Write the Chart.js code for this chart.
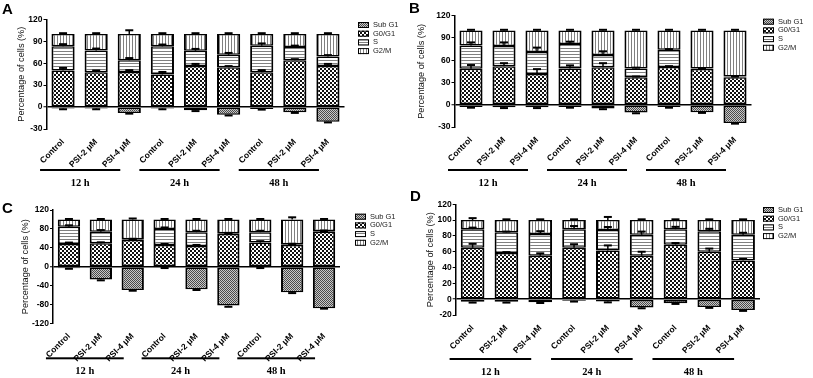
<!DOCTYPE html>
<html>
<head>
<meta charset="utf-8">
<script src="https://cdn.jsdelivr.net/npm/chart.js@4.4.1/dist/chart.umd.min.js"></script>
<style>
  body { margin: 0; background: #fff; }
  #wrap { position: relative; width: 813px; height: 378px; }
  canvas { position: absolute; }
</style>
</head>
<body>
<div id="wrap">
  <canvas id="chartA" width="406" height="190" style="left:0;top:0"></canvas>
  <canvas id="chartB" width="407" height="190" style="left:406px;top:0"></canvas>
  <canvas id="chartC" width="406" height="190" style="left:0;top:188px"></canvas>
  <canvas id="chartD" width="407" height="190" style="left:406px;top:188px"></canvas>
</div>
<script>
// Cell cycle distribution, four panels (A-D), each with 9 stacked bars.
// Sub G1 is plotted downward from zero; G0/G1, S and G2/M stack up to 100 %.

const categories = ['Control', 'PSI-2 μM', 'PSI-4 μM', 'Control', 'PSI-2 μM', 'PSI-4 μM', 'Control', 'PSI-2 μM', 'PSI-4 μM'];
const groups = ['12 h', '24 h', '48 h'];
const phaseLabels = ['Sub G1', 'G0/G1', 'S', 'G2/M'];

// Panel A
const subG1A = [-2, -2, -8, -2, -4.5, -10.5, -2.5, -7, -20];
const g0g1A = [50, 47.5, 48, 44.5, 56, 54.5, 47.5, 64, 56];
const sA = [33, 30, 16, 38.5, 21, 17, 36.5, 18, 13];
const g2mA = [17, 22.5, 36, 17, 23, 28.5, 16, 18, 31];
const errSubA = [1, 1, 1, 1, 1, 1, 1, 1, 1];
const errG0A = [3.5, 2.5, 2.5, 3.5, 3, 1.5, 3, 1.5, 3];
const errSA = [3, 2.5, 3, 2.5, 2.5, 2.5, 3, 2, 2];
const errG2A = [1, 1, 5, 1, 1, 1, 1, 1, 1];

// Panel B
const subG1B = [-3, -3.5, -3.5, -3, -5, -10.5, -3, -10, -24.5];
const g0g1B = [48.5, 52, 41.5, 49, 50.5, 37, 51, 48, 37];
const sB = [31.5, 27, 29.5, 33, 16.5, 12, 23, 1, 1];
const g2mB = [20, 21, 29, 18, 33, 51, 26, 51, 62];
const errSubB = [1, 1, 1, 1, 1, 1, 1, 1, 1];
const errG0B = [5, 4, 6.5, 4, 5.5, 1, 1, 0.5, 1];
const errSB = [4, 5, 6, 3, 5, 1, 1, 0.5, 0.5];
const errG2B = [1, 1, 1, 1, 1, 1, 1, 1, 1];

// Panel C
const subG1C = [-3.5, -27, -49.5, -2, -48, -82.5, -2, -54, -88];
const g0g1C = [48, 49.5, 56.5, 46, 44, 69, 51, 46, 74];
const sC = [36.5, 24.5, 1.5, 34, 29, 1.5, 22, 1.5, 1.5];
const g2mC = [15.5, 26, 42, 20, 27, 29.5, 27, 52.5, 24.5];
const errSubC = [1, 2, 1.5, 1, 1.5, 2.5, 1, 2, 1];
const errG0C = [3, 2, 1, 2, 2, 1, 3, 2, 1];
const errSC = [3, 3.5, 1, 3, 3, 1, 3, 1, 1];
const errG2C = [1, 1, 2, 1, 1, 1, 1, 4.5, 1];

// Panel D
const subG1D = [-3.3, -3.3, -3.8, -2, -3, -10.5, -5, -10, -13.8];
const g0g1D = [65, 58.5, 55, 65, 61.5, 55, 69, 60, 49];
const sD = [23.5, 26, 27.5, 23.5, 26, 26.5, 19.5, 26, 32.5];
const g2mD = [11.5, 15.5, 17.5, 11.5, 12.5, 18.5, 11.5, 14, 18.5];
const errSubD = [1, 1, 1, 1, 1, 1, 1, 1, 1];
const errG0D = [5, 1, 3, 4.5, 6.5, 5, 2, 4, 2];
const errSD = [2, 1, 3.5, 4, 3.8, 4, 3, 3, 2.5];
const errG2D = [2.5, 1, 1, 1, 4, 1, 1, 1, 1];

Chart.defaults.font.family = '"Liberation Sans", Arial, sans-serif';

function makePattern(size, paint) {
  const c = document.createElement('canvas');
  c.width = size;
  c.height = size;
  const g = c.getContext('2d');
  g.fillStyle = '#fff';
  g.fillRect(0, 0, size, size);
  paint(g);
  return g.createPattern(c, 'repeat');
}

const patterns = [
  makePattern(2, g => { g.fillStyle = '#c8c8c8'; g.fillRect(0, 0, 2, 2); g.fillStyle = '#4a4a4a'; g.fillRect(0, 0, 1, 1); g.fillRect(1, 1, 1, 1); }),
  makePattern(4, g => { g.fillStyle = '#111'; g.fillRect(0, 0, 2, 2); g.fillRect(2, 2, 2, 2); }),
  makePattern(3, g => { g.fillStyle = '#808080'; g.fillRect(0, 0, 3, 1); }),
  makePattern(3, g => { g.fillStyle = '#808080'; g.fillRect(0, 0, 1, 3); })
];

// error bars: one cap on the outer end of every segment
const errorBars = {
  id: 'errorBars',
  afterDatasetsDraw(chart) {
    const ctx = chart.ctx;
    const y = chart.scales.y;
    ctx.save();
    ctx.strokeStyle = '#000';
    chart.data.datasets.forEach((ds, i) => {
      chart.getDatasetMeta(i).data.forEach((bar, j) => {
        const err = ds.errors[j];
        const v = y.getValueForPixel(bar.y);
        const end = y.getPixelForValue(ds.data[j] < 0 ? v - err : v + err);
        ctx.lineWidth = 1.5;
        ctx.beginPath();
        ctx.moveTo(bar.x, bar.y);
        ctx.lineTo(bar.x, end);
        ctx.stroke();
        ctx.lineWidth = 2;
        ctx.beginPath();
        ctx.moveTo(bar.x - 4, end);
        ctx.lineTo(bar.x + 4, end);
        ctx.stroke();
      });
    });
    ctx.restore();
  }
};

// panel letter, legend and the time-point lines under the axis
const decor = {
  id: 'decor',
  afterDraw(chart, args, o) {
    const ctx = chart.ctx;
    const x = chart.scales.x;
    ctx.save();
    ctx.fillStyle = '#000';
    ctx.font = 'bold 15px "Liberation Sans", Arial, sans-serif';
    ctx.textBaseline = 'top';
    ctx.textAlign = 'left';
    ctx.fillText(o.letter, o.letterX, o.letterY);

    ctx.font = '7.5px "Liberation Sans", Arial, sans-serif';
    ctx.textBaseline = 'middle';
    chart.data.datasets.forEach((ds, i) => {
      const cy = o.legendY + i * 8.7;
      ctx.fillStyle = ds.backgroundColor;
      ctx.fillRect(o.legendX, cy - 3, 11, 6);
      ctx.lineWidth = 1;
      ctx.strokeStyle = '#000';
      ctx.strokeRect(o.legendX + 0.5, cy - 2.5, 10, 5);
      ctx.fillStyle = '#222';
      ctx.fillText(ds.label, o.legendX + 15, cy);
    });

    ctx.font = 'bold 10.5px "Liberation Serif", "Times New Roman", serif';
    ctx.textAlign = 'center';
    ctx.fillStyle = '#000';
    groups.forEach((name, g) => {
      const x1 = x.getPixelForValue(g * 3) - 23;
      const x2 = x.getPixelForValue(g * 3 + 2) - 9;
      ctx.fillRect(x1, o.lineY - 1, x2 - x1, 2);
      ctx.fillText(name, (x1 + x2) / 2, o.lineY + 13);
    });
    ctx.restore();
  }
};

function buildChart(id, series, errors, axis, box) {
  const datasets = series.map((data, i) => ({
    label: phaseLabels[i],
    data: data,
    errors: errors[i],
    backgroundColor: patterns[i],
    borderColor: '#000',
    borderWidth: { left: 2, right: 2, top: 1.5, bottom: 1.5 },
    borderSkipped: false,
    barPercentage: 0.7,
    categoryPercentage: 1
  }));
  return new Chart(document.getElementById(id), {
    type: 'bar',
    data: { labels: categories, datasets: datasets },
    options: {
      responsive: false,
      animation: false,
      layout: { padding: { left: 0, top: box.top, right: box.right, bottom: box.bottom } },
      plugins: {
        legend: { display: false },
        tooltip: { enabled: false },
        decor: box.decor
      },
      scales: {
        x: {
          stacked: true,
          grid: { display: false },
          border: { display: false },
          ticks: { minRotation: 45, maxRotation: 45, autoSkip: false, padding: 0, color: '#000', font: { size: 8.5, weight: 'bold' } },
          afterFit: s => { s.height = 42; }
        },
        y: {
          stacked: true,
          min: axis.min,
          max: axis.max,
          ticks: { stepSize: axis.step, padding: 1, color: '#000', font: { size: 8.5, weight: 'bold' } },
          grid: {
            color: c => (c.tick && c.tick.value === 0 ? '#000' : 'rgba(0,0,0,0)'),
            lineWidth: c => (c.tick && c.tick.value === 0 ? 1.5 : 1),
            tickColor: '#000',
            tickLength: 3,
            tickWidth: 1
          },
          border: { display: true, color: '#000', width: 1.5 },
          title: { display: true, text: 'Percentage of cells (%)', color: '#111', font: { size: 9.2 }, padding: { top: box.titlePad, bottom: 0 } },
          afterFit: s => { s.width = box.yWidth; }
        }
      }
    },
    plugins: [errorBars, decor]
  });
}

buildChart('chartA', [subG1A, g0g1A, sA, g2mA], [errSubA, errG0A, errSA, errG2A],
  { min: -30, max: 120, step: 30 },
  { top: 19.3, right: 61.5, bottom: 19, yWidth: 46.5, titlePad: 15.5,
    decor: { letter: 'A', letterX: 2, letterY: 2, legendX: 358, legendY: 25, lineY: 170 } });

buildChart('chartB', [subG1B, g0g1B, sB, g2mB], [errSubB, errG0B, errSB, errG2B],
  { min: -30, max: 120, step: 30 },
  { top: 15.7, right: 61.5, bottom: 21, yWidth: 48.5, titlePad: 9.5,
    decor: { letter: 'B', letterX: 3, letterY: 1, legendX: 357, legendY: 21.7, lineY: 170 } });

buildChart('chartC', [subG1C, g0g1C, sC, g2mC], [errSubC, errG0C, errSC, errG2C],
  { min: -120, max: 120, step: 40 },
  { top: 22, right: 66, bottom: 12.7, yWidth: 53, titlePad: 20,
    decor: { letter: 'C', letterX: 2, letterY: 13, legendX: 355, legendY: 28.7, lineY: 170.3 } });

buildChart('chartD', [subG1D, g0g1D, sD, g2mD], [errSubD, errG0D, errSD, errG2D],
  { min: -20, max: 120, step: 20 },
  { top: 16.3, right: 53, bottom: 21, yWidth: 49.7, titlePad: 18.5,
    decor: { letter: 'D', letterX: 4, letterY: 1, legendX: 357, legendY: 22, lineY: 171 } });
</script>
</body>
</html>
